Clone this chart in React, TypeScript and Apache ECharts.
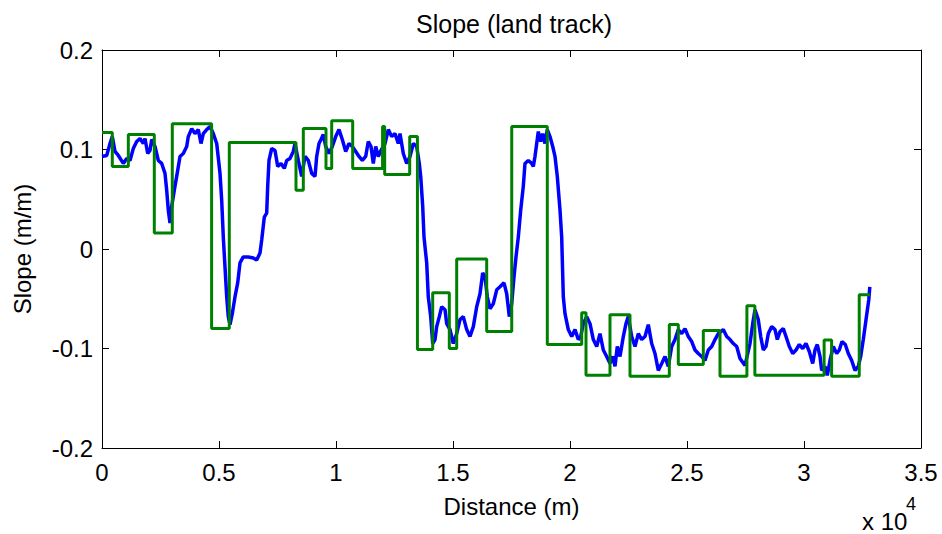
import React, { useEffect, useRef } from "react";
import * as echarts from "echarts";

// Blue measured slope: distance (m) and slope (m/m)
const blueDist = [
  0, 201, 342, 440, 556, 697, 910, 1056, 1197, 1338, 1483, 1624, 1765, 1838, 1953, 2051, 2124, 2265, 2406, 2551,
  2692, 2765, 2833, 2906, 2979, 3090, 3192, 3333, 3474, 3620, 3688, 3833, 3974, 4115, 4231, 4329, 4474, 4615, 4756,
  4902, 5043, 5115, 5184, 5256, 5329, 5397, 5470, 5568, 5684, 5799, 5897, 6038, 6252, 6466, 6611, 6752, 6825, 6936,
  7038, 7081, 7137, 7252, 7393, 7509, 7650, 7791, 7893, 8034, 8175, 8248, 8389, 8534, 8675, 8816, 8962, 9103, 9175,
  9274, 9359, 9457, 9560, 9701, 9842, 9987, 10128, 10269, 10415, 10556, 10697, 10842, 10983, 11124, 11269, 11380,
  11496, 11594, 11697, 11808, 11923, 12094, 12235, 12380, 12521, 12662, 12735, 12876, 13021, 13162, 13304, 13449,
  13560, 13620, 13705, 13761, 13876, 13944, 14047, 14133, 14231, 14303, 14415, 14517, 14658, 14731, 14872, 15013,
  15158, 15299, 15440, 15585, 15726, 15868, 16013, 16154, 16269, 16368, 16466, 16581, 16722, 16868, 17009, 17179,
  17295, 17406, 17509, 17607, 17692, 17791, 17893, 18004, 18077, 18218, 18363, 18432, 18504, 18577, 18645, 18748,
  18833, 18932, 19030, 19145, 19261, 19359, 19457, 19573, 19645, 19714, 19786, 19927, 20073, 20214, 20355, 20457,
  20568, 20714, 20855, 20996, 21141, 21282, 21423, 21568, 21709, 21825, 21923, 22021, 22137, 22278, 22393, 22491,
  22636, 22778, 22919, 23064, 23205, 23346, 23491, 23632, 23774, 23919, 24060, 24201, 24346, 24487, 24628, 24774,
  24915, 25056, 25201, 25342, 25483, 25628, 25769, 25910, 26056, 26197, 26338, 26551, 26697, 26838, 26979, 27124,
  27265, 27479, 27692, 27808, 27906, 28047, 28150, 28261, 28376, 28474, 28620, 28761, 28859, 28974, 29115, 29231,
  29372, 29517, 29658, 29799, 29944, 30085, 30226, 30372, 30470, 30568, 30684, 30756, 30897, 30996, 31111, 31252,
  31397, 31509, 31624, 31765, 31893, 32038, 32179, 32320, 32423, 32534, 32650, 32769, 32812,
];
const blueSlope = [
  0.093, 0.094, 0.106, 0.113, 0.098, 0.094, 0.086, 0.091, 0.089, 0.101, 0.108, 0.111, 0.106, 0.111, 0.096, 0.099,
  0.11, 0.103, 0.089, 0.086, 0.076, 0.059, 0.039, 0.026, 0.043, 0.059, 0.073, 0.093, 0.096, 0.103, 0.113, 0.121,
  0.116, 0.12, 0.106, 0.116, 0.12, 0.123, 0.116, 0.106, 0.076, 0.049, 0.012, -0.018, -0.048, -0.068, -0.076, -0.065,
  -0.048, -0.034, -0.014, -0.008, -0.008, -0.009, -0.011, -0.004, 0.009, 0.032, 0.036, 0.063, 0.089, 0.101, 0.099,
  0.083, 0.086, 0.081, 0.089, 0.091, 0.098, 0.106, 0.089, 0.073, 0.093, 0.089, 0.076, 0.073, 0.093, 0.106, 0.11,
  0.115, 0.103, 0.096, 0.103, 0.113, 0.12, 0.11, 0.098, 0.106, 0.103, 0.098, 0.093, 0.089, 0.093, 0.108, 0.103,
  0.086, 0.103, 0.093, 0.099, 0.106, 0.12, 0.113, 0.116, 0.106, 0.116, 0.096, 0.086, 0.093, 0.106, 0.103, 0.086,
  0.073, 0.043, 0.012, -0.014, -0.048, -0.068, -0.095, -0.091, -0.078, -0.068, -0.058, -0.061, -0.075, -0.081,
  -0.095, -0.085, -0.071, -0.068, -0.081, -0.088, -0.078, -0.058, -0.045, -0.024, -0.028, -0.048, -0.06, -0.055,
  -0.041, -0.038, -0.034, -0.045, -0.068, -0.055, -0.028, -0.008, 0.012, 0.039, 0.063, 0.086, 0.089, 0.086, 0.083,
  0.093, 0.106, 0.118, 0.108, 0.116, 0.106, 0.12, 0.113, 0.103, 0.093, 0.073, 0.039, 0.012, -0.048, -0.065, -0.081,
  -0.088, -0.081, -0.091, -0.088, -0.075, -0.068, -0.075, -0.091, -0.098, -0.085, -0.1015, -0.108, -0.115, -0.108,
  -0.118, -0.098, -0.108, -0.088, -0.075, -0.068, -0.088, -0.098, -0.085, -0.091, -0.088, -0.076, -0.095, -0.105,
  -0.122, -0.115, -0.108, -0.118, -0.098, -0.091, -0.081, -0.085, -0.08, -0.088, -0.093, -0.1015, -0.105, -0.108,
  -0.112, -0.1015, -0.098, -0.091, -0.085, -0.081, -0.088, -0.091, -0.095, -0.098, -0.11, -0.117, -0.095, -0.075,
  -0.061, -0.071, -0.088, -0.1015, -0.098, -0.085, -0.078, -0.081, -0.091, -0.083, -0.08, -0.088, -0.098, -0.105,
  -0.1015, -0.096, -0.1, -0.095, -0.103, -0.115, -0.1015, -0.096, -0.108, -0.122, -0.118, -0.127, -0.112, -0.098,
  -0.105, -0.1015, -0.093, -0.096, -0.105, -0.112, -0.122, -0.118, -0.108, -0.091, -0.071, -0.051, -0.038,
];

// Green piecewise-constant fit: segment start distance (m) and level (m/m)
const greenStart = [
  0, 440, 1125, 2235, 3004, 4684, 5440, 8290, 8603, 9572, 9816, 10713, 11990, 12080, 13150, 13480, 14132, 14842,
  15158, 16440, 17510, 19030, 20500, 20684, 21709, 22564, 24244, 24628, 25697, 26410, 27560, 27900, 30860, 31180,
  32360, 32820,
];
const greenLevel = [
  0.117, 0.083, 0.115, 0.016, 0.126, -0.08, 0.107, 0.059, 0.121, 0.081, 0.129, 0.081, 0.123, 0.075, 0.113, -0.101,
  -0.044, -0.1, -0.01, -0.083, 0.123, -0.096, -0.064, -0.127, -0.066, -0.128, -0.076, -0.116, -0.082, -0.128,
  -0.057, -0.127, -0.0915, -0.128, -0.046, -0.046,
];

const xTicks = [0, 5000, 10000, 15000, 20000, 25000, 30000, 35000];
const yTicks = [-0.2, -0.1, 0, 0.1, 0.2];

const FONT = "Liberation Sans, Arial, sans-serif";

export default function App() {
  const ref = useRef<HTMLDivElement>(null);
  useEffect(() => {
    if (!ref.current) return;
    const chart = echarts.init(ref.current, undefined, { renderer: "svg" });
    const blueData = blueDist.map((d, i) => [d, blueSlope[i]]);
    const greenData = greenStart.map((d, i) => [d, greenLevel[i]]);
    const axisLine = { show: true, onZero: false, lineStyle: { color: "#000", width: 1 } };
    const xCommon = {
      type: "value" as const,
      min: xTicks[0],
      max: xTicks[xTicks.length - 1],
      interval: 5000,
      splitLine: { show: false },
      axisLine,
      axisTick: { show: true, inside: true, length: 7, lineStyle: { color: "#000" } },
    };
    const yCommon = {
      type: "value" as const,
      min: yTicks[0],
      max: yTicks[yTicks.length - 1],
      interval: 0.1,
      splitLine: { show: false },
      axisLine,
      axisTick: { show: true, inside: true, length: 7, lineStyle: { color: "#000" } },
    };
    chart.setOption({
      animation: false,
      backgroundColor: "#fff",
      textStyle: { fontFamily: FONT },
      title: {
        text: "Slope (land track)",
        left: 509,
        top: 6,
        textAlign: "center",
        textStyle: { fontSize: 25, fontWeight: "normal", color: "#000", fontFamily: FONT },
      },
      grid: { left: 102, top: 50, right: 21, bottom: 86, containLabel: false },
      xAxis: [
        {
          ...xCommon,
          position: "bottom",
          axisLabel: {
            show: true,
            color: "#000",
            fontSize: 24,
            fontFamily: FONT,
            margin: 12,
            formatter: (v: number) => String(parseFloat((v / 10000).toFixed(1))),
          },
          name: "Distance (m)",
          nameLocation: "middle",
          nameGap: 46,
          nameTextStyle: { color: "#000", fontSize: 24, fontFamily: FONT },
        },
        { ...xCommon, position: "top", axisLabel: { show: false } },
      ],
      yAxis: [
        {
          ...yCommon,
          position: "left",
          axisLabel: {
            show: true,
            color: "#000",
            fontSize: 24,
            fontFamily: FONT,
            margin: 9,
            formatter: (v: number) => String(parseFloat(v.toFixed(1))),
          },
          name: "Slope (m/m)",
          nameLocation: "middle",
          nameGap: 68,
          nameTextStyle: { color: "#000", fontSize: 24, fontFamily: FONT },
        },
        { ...yCommon, position: "right", axisLabel: { show: false } },
      ],
      graphic: [
        {
          type: "text",
          left: 862,
          top: 509,
          style: { text: "x 10", fontSize: 24, fontFamily: FONT, fill: "#000" },
        },
        {
          type: "text",
          left: 906,
          top: 495,
          style: { text: "4", fontSize: 18, fontFamily: FONT, fill: "#000" },
        },
      ],
      series: [
        {
          type: "line",
          data: blueData,
          showSymbol: false,
          lineStyle: { color: "#0000ff", width: 3.5 },
          itemStyle: { color: "#0000ff" },
          z: 2,
        },
        {
          type: "line",
          data: greenData,
          step: "end",
          showSymbol: false,
          lineStyle: { color: "#008000", width: 3 },
          itemStyle: { color: "#008000" },
          z: 3,
        },
      ],
    });
    return () => chart.dispose();
  }, []);
  return <div ref={ref} style={{ position: "fixed", left: 0, top: 0, width: 942, height: 534 }} />;
}
